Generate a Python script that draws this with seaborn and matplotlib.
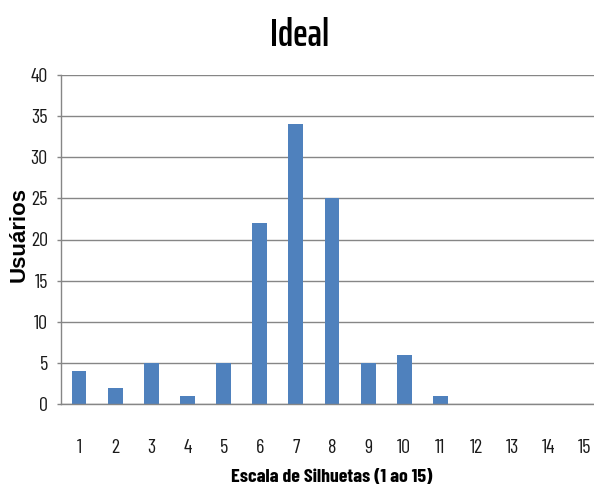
import matplotlib
matplotlib.use("Agg")
import matplotlib.pyplot as plt
import seaborn as sns
import pandas as pd

categories = [str(i) for i in range(1, 16)]
usuarios = [4, 2, 5, 1, 5, 22, 34, 25, 5, 6, 1, 0, 0, 0, 0]
y_ticks = [0, 5, 10, 15, 20, 25, 30, 35, 40]

sns.set_theme(style="white")
plt.rcParams["font.family"] = ["Barlow Condensed", "DejaVu Sans"]

df = pd.DataFrame({"escala": categories, "usuarios": usuarios})

W, H = 594, 488
fig = plt.figure(figsize=(W / 100, H / 100), dpi=100)
# plot area in pixels: left 61, top 75, bottom 404; last category runs past the right edge
ax = fig.add_axes([61 / W, (H - 404) / H, 542 / W, 329 / H])

sns.barplot(data=df, x="escala", y="usuarios", color="#4F81BD",
            width=0.41, saturation=1, linewidth=0, ax=ax, zorder=3)

ax.set_xlim(-0.5, 14.5)
ax.set_ylim(0, 40)
ax.set_yticks(y_ticks)
ax.yaxis.grid(True, color="#868686", linewidth=1.0, zorder=0)
ax.xaxis.grid(False)

for s in ["top", "right"]:
    ax.spines[s].set_visible(False)
for s in ["left", "bottom"]:
    ax.spines[s].set_color("#868686")
    ax.spines[s].set_linewidth(1.0)
    ax.spines[s].set_zorder(4)

ax.tick_params(axis="y", left=True, length=3, width=1, color="#868686",
               labelsize=14.5, pad=6.5, labelcolor="#1a1a1a")
ax.tick_params(axis="x", bottom=False, labelsize=14.5, pad=19,
               labelcolor="#1a1a1a")

ax.set_xlabel("Escala de Silhuetas (1 ao 15)", fontsize=14.3, fontweight="bold",
              color="black")
ax.xaxis.label.set_va("baseline")
ax.xaxis.set_label_coords((332 - 61) / 542, (404 - 482) / 329)

ax.set_ylabel("Usuários", fontsize=16, fontweight="bold", color="black",
              family=["Liberation Sans", "DejaVu Sans"])
ax.yaxis.label.set_va("center")
ax.yaxis.set_label_coords((19 - 61) / 542, (404 - 235) / 329)

fig.text(300 / W, 1 - 46 / H, "Ideal", ha="center", va="baseline",
         fontsize=28, fontweight="semibold", color="black",
         family=["Saira ExtraCondensed", "DejaVu Sans"])

fig.savefig("out.png", dpi=100, facecolor="white")
